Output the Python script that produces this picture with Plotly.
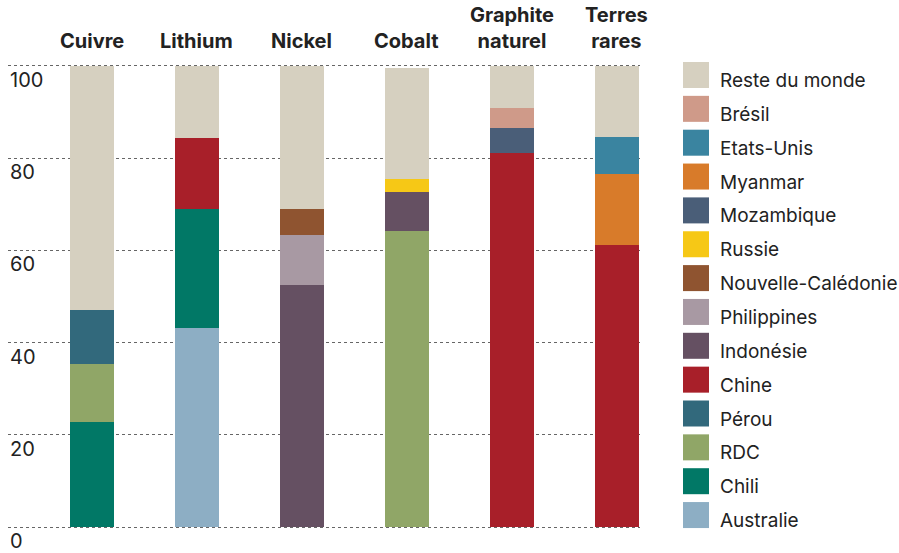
import plotly.graph_objects as go

# Minerals (x categories) and production shares (%) by country
minerals = ["Cuivre", "Lithium", "Nickel", "Cobalt", "Graphite<br>naturel", "Terres<br>rares"]

# Stack order, bottom to top
australie = [0, 43.2, 0, 0, 0, 0]
chili = [22.8, 25.7, 0, 0, 0, 0]
rdc = [12.6, 0, 0, 64.2, 0, 0]
perou = [11.6, 0, 0, 0, 0, 0]
chine = [0, 15.5, 0, 0, 81.0, 61.2]
indonesie = [0, 0, 52.5, 8.5, 0, 0]
philippines = [0, 0, 10.8, 0, 0, 0]
nouvelle_caledonie = [0, 0, 5.7, 0, 0, 0]
russie = [0, 0, 0, 2.8, 0, 0]
mozambique = [0, 0, 0, 0, 5.5, 0]
myanmar = [0, 0, 0, 0, 0, 15.4]
etats_unis = [0, 0, 0, 0, 0, 8.0]
bresil = [0, 0, 0, 0, 4.4, 0]
reste_du_monde = [53.0, 15.6, 31.0, 24.1, 9.1, 15.4]

series = [
    ("Australie", australie, "#8daec4"),
    ("Chili", chili, "#017866"),
    ("RDC", rdc, "#90a667"),
    ("Pérou", perou, "#32697c"),
    ("Chine", chine, "#a81f29"),
    ("Indonésie", indonesie, "#655062"),
    ("Philippines", philippines, "#a899a3"),
    ("Nouvelle-Calédonie", nouvelle_caledonie, "#8f5430"),
    ("Russie", russie, "#f6c816"),
    ("Mozambique", mozambique, "#4a5e78"),
    ("Myanmar", myanmar, "#d87b2a"),
    ("Etats-Unis", etats_unis, "#3a84a0"),
    ("Brésil", bresil, "#cf9a89"),
    ("Reste du monde", reste_du_monde, "#d6d0c0"),
]

y_ticks = [0, 20, 40, 60, 80, 100]

W, H = 899, 553
ML, MR, MT, MB = 8, 259, 64, 24
PW, PH = W - ML - MR, H - MT - MB
TEXT = "#222222"
FONT = "Inter"

fig = go.Figure()
for name, vals, color in series:
    fig.add_trace(go.Bar(
        x=minerals, y=vals, name=name,
        marker=dict(color=color, line=dict(width=0)),
        width=0.42, showlegend=False,
        hovertemplate="%{x}<br>" + name + " : %{y}%<extra></extra>",
    ))

annotations = []

# Category headers above the bars
for cat in minerals:
    annotations.append(dict(
        x=cat, xref="x", y=1, yref="paper", text=cat,
        xanchor="center", yanchor="bottom", showarrow=False, yshift=9,
        font=dict(family=FONT, size=20, color=TEXT, weight="bold"),
    ))

# y tick labels sit just below their grid lines
for t in y_ticks:
    annotations.append(dict(
        x=0, xref="paper", y=t, yref="y", text=str(t),
        xanchor="left", yanchor="middle", showarrow=False, yshift=-14,
        font=dict(family=FONT, size=20, color=TEXT),
    ))

# Hand-drawn legend: large squares, top to bottom in reverse stack order
def px_x(px):
    return (px - ML) / PW

def px_y(py):
    return (MT + PH - py) / PH

shapes = []
sq, top0, step = 26, 62, 33.85
for i, (name, _, color) in enumerate(reversed(series)):
    y0 = top0 + i * step
    shapes.append(dict(
        type="rect", xref="paper", yref="paper",
        x0=px_x(683), x1=px_x(683 + sq), y0=px_y(y0 + sq), y1=px_y(y0),
        fillcolor=color, line=dict(width=0),
    ))
    annotations.append(dict(
        x=px_x(718), xref="paper", y=px_y(y0 + 18.5), yref="paper",
        text=name, xanchor="left", yanchor="middle", showarrow=False,
        font=dict(family=FONT, size=19, color=TEXT),
    ))

fig.update_layout(
    width=W, height=H,
    margin=dict(l=ML, r=MR, t=MT, b=MB, autoexpand=False),
    paper_bgcolor="white", plot_bgcolor="white",
    barmode="stack", bargap=0,
    annotations=annotations, shapes=shapes,
    xaxis=dict(
        side="top", type="category", range=[-0.8, 5.22],
        showgrid=False, zeroline=False, showline=False, ticks="",
        showticklabels=False, automargin=False,
    ),
    yaxis=dict(
        range=[-0.4, 100.4], tickvals=y_ticks, showticklabels=False,
        showgrid=True, gridcolor="#666666", gridwidth=1, griddash="dot",
        zeroline=False, showline=False, ticks="", automargin=False,
    ),
)

fig.write_html("out.html")
